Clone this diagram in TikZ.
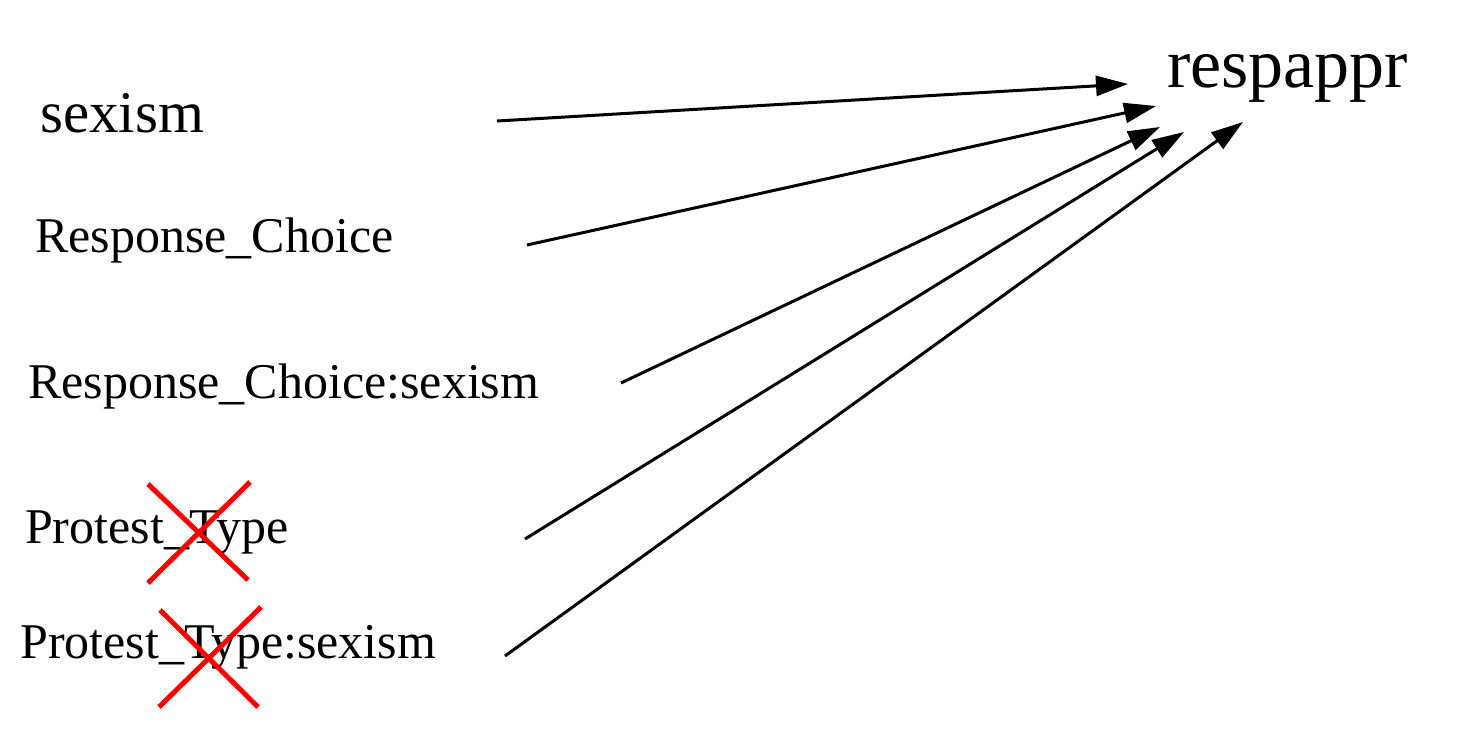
\documentclass[tikz,border=0pt]{standalone}
\usepackage{fontspec}
\setmainfont{Liberation Serif}
\usetikzlibrary{arrows.meta}
\tikzset{
  lbl/.style={inner sep=0pt, anchor=base west, font=\fontsize{50}{60}\selectfont},
  conn/.style={line width=3pt, -{Triangle[length=32pt,width=20pt]}},
  cross/.style={draw=red, line width=5pt}
}
\begin{document}
\begin{tikzpicture}[x=1pt,y=-1pt]
\useasboundingbox (0,0) rectangle (1468,729);
\node[lbl, font=\fontsize{70}{84}\selectfont] (resp) at (1167,87) {respappr};
\node[lbl, font=\fontsize{59}{70}\selectfont] (sex) at (40,132) {sexism};
\node[lbl] (rc) at (35,252) {Response\_Choice};
\node[lbl] (rcs) at (28,398) {Response\_Choice:sexism};
\node[lbl] (pt) at (25,543) {Protest\_Type};
\node[lbl] (pts) at (20,658) {Protest\_Type:sexism};
% connector ends
\coordinate (s1) at (497,121);
\coordinate (s2) at (527,245);
\coordinate (s3) at (621,383);
\coordinate (s4) at (525,539);
\coordinate (s5) at (505,656);
\coordinate (t1) at (1128,84);
\coordinate (t2) at (1156,106);
\coordinate (t3) at (1160,127);
\coordinate (t4) at (1184,132);
\coordinate (t5) at (1243,122);
\draw[conn] (s1) -- (t1);
\draw[conn] (s2) -- (t2);
\draw[conn] (s3) -- (t3);
\draw[conn] (s4) -- (t4);
\draw[conn] (s5) -- (t5);
% crosses
\draw[cross] (148,484) -- (248,580);
\draw[cross] (250,482) -- (148,583);
\draw[cross] (160,610) -- (258,707);
\draw[cross] (261,607) -- (159,707);
\end{tikzpicture}
\end{document}
